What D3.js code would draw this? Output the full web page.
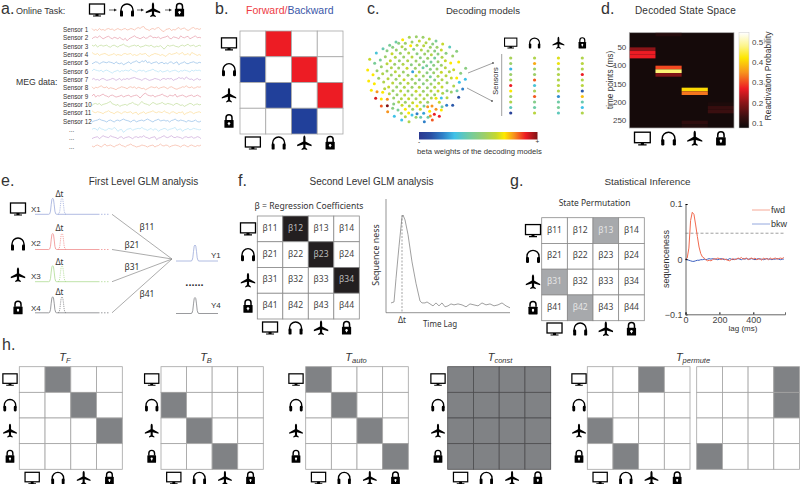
<!DOCTYPE html>
<html>
<head>
<meta charset="utf-8">
<script src="https://cdnjs.cloudflare.com/ajax/libs/d3/7.8.5/d3.min.js"></script>
<style>
html, body { margin: 0; padding: 0; background: #fff; }
svg { display: block; }
text { font-family: "Liberation Sans", Arial, sans-serif; fill: #333; }
.noto { font-family: "Noto Sans", sans-serif; }
</style>
</head>
<body>
<div id="chart"></div>
<script>
// states, in the order every matrix uses them
var states = ['monitor', 'headphones', 'plane', 'lock']

// a. MEG traces
var sensorLabels = ['Sensor 1', 'Sensor 2', 'Sensor 3', 'Sensor 4', 'Sensor 5', 'Sensor 6', 'Sensor 7', 'Sensor 8', 'Sensor 9', 'Sensor 10', 'Sensor 11', 'Sensor 12', '...', '...', '...']
var sensorColors = ['#f7b5a0', '#e69cab', '#c0dc9a', '#fcdd98', '#92bde6', '#b6e3f6', '#cca8da', '#f7b5a0', '#e69cab', '#c0dc9a', '#fcdd98', '#92bde6', '#b6e3f6', '#cca8da', '#f7b5a0']
var traces = [
    [1, -1, 0, -1, 1, -.5, 0, -1, .5, 1, 0, .5, -1, 0, 1, 0, -.5, .5, 1, -.5, 0, 1, .5, -.5, 1, 2, 1, 2.5, 3, .5, 0, -1, .5, 1, 0, 1.5, 2, .5, -1.5, -2, 0, .5, 1, -1, 0, -.5, 1, 2, 0, 1, 1.5, 0, -1, 0, 1.5, 2, .5, 1, 0, 1],
    [-1, .5, 1, 0, 2, .5, -1, 0, 1, 1.5, 0, -1, .5, 0, -1, .5, -1, -2, -.5, -3, -1, 0, 1, 2, .5, 0, -1, 0, 1, -.5, 0, 1.5, 2, 0, .5, 0, 1, -1, 0, .5, 1, 2, -.5, -1, 1, .5, 0, -1, 2, .5, 0, 1, 1.5, -1, 0, 1, 2, 0, .5, 0],
    [1, 0, 1.5, -1, .5, 1, 0, .5, 1, -.5, -1, .5, 1, 0, -1, .5, 1, 2, .5, 0, -1, 0, .5, 1, 0, 1, -1, -.5, 0, 1, .5, 0, 1, -.5, -1, 0, -.5, .5, -1, -3, -1, 1, 0, .5, 1, 0, -.5, -1, .5, 1, 0, 1, 2, 0, .5, 1, -.5, 0, 1, 0],
    [2, .5, 0, 1, -1, 0, .5, 1, 0, -1, -.5, 0, 1, -1, 0, -.5, -1, .5, 1, 0, .5, 1, -1, 0, -1, -.5, 1, 0, .5, 1, -1, -2, -.5, 0, 1, .5, 0, -1, 0, -1, -2, 0, 1, 0, .5, 1, 2, 0, 1, 2, -.5, 0, 1, -1, 2, 1, 0, -1, 0, -1],
    [-1, 0, 1, .5, -1, 0, 1, .5, 0, 1, .5, 0, -1, 1, -.5, -1, 0, -2, -1, 0, 1, -1, .5, 1, 2, .5, 0, 2, 1, 2.5, 0, 1, -1, 0, .5, 1, -1, 0, .5, -1, 0, -1, .5, 1, -1, 0, 1, -2, -.5, 0, 1, -.5, -1, 0, .5, 1, 0, -.5, .5, 0],
    [0, 2, 1, .5, 0, 1, -1, .5, 1, 0, -1, -2, -.5, 0, 1, -1, .5, 0, 1, .5, 0, 2, .5, 0, -1, .5, 1, 0, 1, -1, 0, .5, 1, 2, .5, 0, -1, 1, -1, -.5, 0, 1, -1, 0, .5, 1, 0, -1, .5, 0, 1, .5, 0, -1, 1, 0, 1, .5, 1, 0],
    [0, 1, -.5, 0, -1, .5, 1, 0, -1, -.5, 0, 1, .5, -1, 0, 1, -1, .5, 0, 1, 0, 1, 1.5, 2, 1, .5, 0, -1, .5, 1, 0, -1, -.5, 0, 1, .5, 0, -1, .5, 1, 0, 1, .5, 1, -1, 0, .5, 2, 1, 1.5, 0, 2.5, 1, 0, .5, -1, 0, 1, -.5, 0],
    [1, -1, .5, 0, 1, 2, .5, 0, 1, -1, 0, -.5, -1, -2, -.5, 0, 1, .5, 0, -1, .5, 1, 0, 1, -1, .5, 0, -1, -.5, -2, -1, 0, 1, .5, 0, 1, -1, 0, .5, 1, 0, -1, .5, 1, 0, -1, -1.5, -.5, 0, 1, .5, 2, .5, 0, 1, -.5, 0, 1, .5, 1],
    [0, 2, -1, .5, 0, 1, 2, .5, 0, -1, .5, 1, 0, -1, -.5, 0, 1, -1, 0, .5, 1, -1, 0, .5, 1, 0, -2, 0, 2, 3, 1, .5, 0, 1, -1, 0, .5, 1, 2, .5, 0, -1, 1, .5, 0, 2, -1, 0, .5, 1, 0, -1, 0, .5, 1, -.5, 0, 1, 0, -1],
    [-1, .5, 1, 0, 1, -1, 0, .5, 1, 2, 3, .5, 0, -1, 0, -2, -1, -.5, 0, -1, .5, 1, 2, .5, 0, -1, 1, 3, 1, .5, 0, -1, .5, 2, 1, 0, .5, 1, 2, .5, 0, 1, .5, 0, -1, .5, 1, 0, -1, -.5, -2, -1, 0, 1, .5, -1, 0, .5, -.5, 0],
    [2, .5, 0, 1, .5, 0, -1, .5, 1, 2, .5, 0, -1, .5, 1, 0, -1, .5, 1, 0, .5, 1, -1, 0, .5, -2, -.5, 0, 1, -1, 0, .5, 1, 2, .5, 0, 1, .5, 0, 2, .5, 0, -1, .5, 1, 0, -1, .5, 0, 1, -2, -.5, 0, 1, .5, -1, 0, .5, 1, 0],
    [-1, 0, .5, 1, 2, 1, .5, 0, -1, .5, 1, 0, -1, .5, 1, 0, 1, 2, 1, .5, 0, -1, .5, 1, -1, 0, .5, 1, 0, 1, 2, 1, 0, -1, .5, 1, 2, 0, .5, 1, 0, .5, -1, .5, 1, 2, .5, 0, 1, .5, 0, -1, .5, 0, -.5, 0, 1, -.5, -1, 0],
    [0, 1, .5, -1, 2, .5, 0, -1, -.5, 1, .5, 0, 2, .5, -2, -.5, 0, -3, -1.5, 0, .5, 1, -1, 0, .5, 1, .5, 2, .5, 0, -1, 0, 1, -1, .5, 0, -2, -.5, 0, 1, .5, -1, 0, .5, 1, 2, -1, 0, .5, -2, -.5, 0, 1, -.5, 0, 1, .5, 0, -.5, 0],
    [-1, 0, .5, 1, -1, .5, 2, 1, .5, 0, 2, 1, .5, 0, -1, .5, 1, -1, 0, .5, 1, 0, -1, .5, 1, 0, 1, .5, 2, .5, 0, -1, 0, .5, 1, -2, -.5, 0, 1, 2, .5, 0, 1, 2, .5, 0, 1, .5, 0, -1, .5, 1, 0, .5, 1, -.5, 0, 1, .5, -1],
    [0, -1, .5, 1, 0, -1, .5, 2, 0, .5, 1, 0, -1, .5, 1, 2, .5, 0, -1, .5, 1, 2, .5, 0, -1, -.5, 0, 1, .5, 0, -1, 0, .5, 1, -1, 0, .5, 2, .5, 0, 1, .5, -1, 0, .5, 1, .5, 0, -1, .5, 1, 0, -1, .5, 1, 0, -.5, .5, 0, 1]
]

// b. transition pattern: 1 forward, 2 backward
var forwardBackward = [[0, 1, 0, 0], [2, 0, 1, 0], [0, 2, 0, 1], [0, 0, 2, 0]]

// c. sensor layout [x, y, beta]
var sensorLayout = [
    [122, 29, .72], [142, 22, .58], [163, 20, .55], [183, 22, .55], [202, 27, .62], [222, 33, .45], [242, 42, .65], [263, 51, .38], [284, 64, .5],
    [43, 69, .33], [63, 56, .4], [83, 46, .45], [102, 36, .42], [23, 88, .65], [38, 100, .45], [17, 120, .72], [33, 134, .72], [20, 153, .72],
    [37, 161, .72], [28, 181, .72], [45, 185, .8], [62, 187, .72], [41, 205, .92], [58, 207, .72], [76, 208, .8], [58, 228, .85], [76, 227, 1],
    [95, 222, .5], [77, 245, .8], [97, 259, .3], [119, 270, .3], [141, 275, .6], [187, 275, .2], [165, 251, .2], [176, 262, .4], [211, 270, .85],
    [232, 259, .9], [217, 253, .9], [203, 244, .72], [222, 238, .8], [238, 204, .3], [254, 226, .2], [272, 226, .12], [290, 202, .1], [302, 177, .2],
    [292, 157, .3], [310, 148, .3], [296, 130, .5], [311, 115, .5], [290, 96, .72], [266, 99, .72], [275, 119, .65], [284, 144, .72],
    [110, 40, .5], [130, 40, .55], [150, 36, .55], [172, 33, .65], [192, 38, .6], [212, 42, .5],
    [92, 52, .5], [120, 50, .6], [146, 47, .72], [165, 46, .6], [185, 47, .62], [205, 52, .55], [225, 52, .55],
    [75, 62, .5], [103, 60, .55], [130, 58, .55], [155, 58, .5], [178, 60, .6], [198, 63, .55], [218, 63, .5], [238, 60, .65],
    [90, 71, .65], [115, 70, .55], [140, 69, .6], [165, 71, .5], [188, 72, .55], [208, 74, .6], [228, 72, .5], [252, 70, .5], [272, 78, .55],
    [70, 80, .55], [100, 82, .6], [125, 81, .55], [150, 81, .62], [175, 83, .5], [197, 85, .55], [218, 84, .45], [240, 82, .6],
    [55, 90, .45], [85, 92, .65], [112, 92, .55], [137, 92, .6], [162, 93, .55], [185, 95, .5], [207, 96, .45], [228, 95, .55], [250, 92, .65],
    [75, 101, .62], [98, 103, .55], [123, 103, .6], [148, 104, .5], [172, 104, .55], [194, 107, .45], [215, 106, .5], [238, 106, .55],
    [58, 110, .55], [88, 113, .6], [110, 114, .55], [135, 115, .65], [160, 115, .55], [183, 113, .42], [205, 118, .5], [225, 117, .55], [250, 113, .62],
    [45, 122, .55], [75, 123, .55], [100, 125, .62], [124, 126, .55], [152, 125, .25], [172, 126, .6], [195, 128, .5], [215, 128, .55], [238, 127, .65], [262, 125, .6],
    [62, 131, .6], [88, 135, .55], [112, 137, .6], [138, 136, .55], [162, 137, .62], [184, 138, .55], [205, 140, .45], [228, 139, .6], [252, 137, .62],
    [50, 145, .55], [78, 146, .62], [102, 148, .55], [126, 149, .65], [150, 148, .55], [172, 149, .5], [195, 151, .55], [218, 150, .5], [240, 149, .6], [268, 144, .65],
    [65, 156, .6], [92, 159, .62], [115, 160, .55], [138, 160, .62], [160, 160, .55], [184, 161, .5], [207, 162, .55], [230, 160, .62], [255, 158, .55],
    [80, 171, .65], [104, 171, .55], [127, 172, .6], [150, 172, .55], [172, 172, .62], [196, 173, .55], [218, 172, .6], [240, 171, .65], [275, 168, .6],
    [68, 176, .62], [93, 182, .55], [116, 183, .62], [138, 183, .55], [162, 184, .65], [184, 184, .55], [207, 183, .6], [228, 183, .65], [255, 182, .5], [285, 182, .42],
    [82, 191, .62], [105, 194, .55], [128, 195, .62], [150, 195, .55], [174, 195, .62], [196, 195, .58], [218, 194, .55], [242, 190, .6], [268, 186, .55],
    [95, 204, .55], [118, 206, .6], [140, 206, .65], [162, 206, .58], [186, 206, .6], [208, 204, .6], [222, 205, .7], [255, 203, .62],
    [110, 216, .6], [130, 217, .55], [152, 218, .65], [175, 217, .62], [197, 217, .55], [210, 228, .8],
    [92, 235, .5], [120, 226, .65], [142, 228, .6], [165, 228, .7], [186, 228, .45], [232, 217, .65], [240, 230, .42],
    [108, 240, .45], [130, 238, .72], [152, 238, .55], [175, 238, .65], [197, 230, .8], [238, 240, .72],
    [118, 250, .55], [140, 249, .72], [162, 262, .55], [185, 250, .25], [205, 258, .8],
    [130, 260, .62], [150, 255, .3], [198, 262, .42]
]
var sensorColumns = [
    [.58, .55, .28, .55, .58, .9, .72, .55, .6, .38, .05],
    [.6, .78, .55, .55, .85, .33, .58, .85, .48, .42, .62],
    [.68, .7, .58, .6, .6, .62, .6, .22, .42, .45, .38],
    [.6, .62, .6, .9, .6, .62, .12, .76, .4, .3, .6]
]
var betaStops = [0, .1, .2, .3, .42, .55, .65, .72, .8, .9, 1]
var betaColors = ['#2b3990', '#2a4fa3', '#2f80c8', '#3fc1e8', '#6fcba5', '#9ccf6a', '#c5d82e', '#fde900', '#f7941d', '#ed1c24', '#7f1416']

// d. decoded state space
var timeTicks = [50, 100, 150, 200, 250]
var heatBase = 0.085
// [time index, state index, probability]
var heatCells = [
    [0, 1, .105], [4, 0, .2], [5, 0, .27], [6, 0, .27],
    [9, 1, .3], [10, 1, .47], [11, 1, .19],
    [15, 2, .41], [16, 2, .33], [24, 2, .115], [25, 2, .1],
    [19, 3, .095], [20, 3, .125], [21, 3, .13]
]
var heatTicks = [.1, .2, .3, .4, .5]
var heatStops = [.076, .13, .2, .27, .35, .42, .48, .544]
var heatColors = ['#0d0909', '#3a0f10', '#8b1418', '#ed1c24', '#f7941d', '#fde600', '#fdf58c', '#ffffff']

// e. first level GLM
var glmRows = [
    { name: 'X1', beta: 'β11', color: '#9dabda' },
    { name: 'X2', beta: 'β21', color: '#f08d8d' },
    { name: 'X3', beta: 'β31', color: '#aedb92' },
    { name: 'X4', beta: 'β41', color: '#808285' }
]
var pulseLag = [-4, -3, -2.2, -1.5, -.8, 0, .8, 1.5, 2.2, 3, 4]
var pulseAmp = [0, .03, .2, .6, .93, 1, .93, .6, .2, .03, 0]

// f. sequenceness sketch
var betaLabels = [['β11', 'β12', 'β13', 'β14'], ['β21', 'β22', 'β23', 'β24'], ['β31', 'β32', 'β33', 'β34'], ['β41', 'β42', 'β43', 'β44']]
var secondLevel = [[0, 1, 0, 0], [0, 0, 1, 0], [0, 0, 0, 1], [0, 0, 0, 0]]
var seqLag = [5, 8, 10, 13, 16, 17, 19, 22, 26, 30, 34, 36, 39, 41, 44, 47, 50, 53, 56, 59, 62, 65, 68, 72, 76, 80, 84, 88, 92, 96, 100, 104, 108, 112, 116, 120, 124]
var seqValue = [.1, .11, .35, .68, .98, 1, .95, .8, .52, .3, .12, .1, .1, .11, .09, .07, .1, .07, .1, .06, .07, .09, .08, .09, .08, .06, .09, .08, .07, .1, .08, .09, .07, .08, .1, .07, .05]

// g. permutation and sequenceness
var permuted = [[0, 0, 1, 0], [0, 0, 0, 0], [1, 0, 0, 0], [0, 1, 0, 0]]
var lags = [0, 10, 20, 30, 40, 50, 60, 70, 80, 90, 100, 110, 120, 130, 140, 150, 160, 170, 180, 190, 200, 210, 220, 230, 240, 250, 260, 270, 280, 290, 300, 310, 320, 330, 340, 350, 360, 370, 380, 390, 400, 410, 420, 430, 440, 450, 460, 470, 480, 490, 500, 510, 520, 530, 540, 550, 560, 570, 580]
var fwd = [0, .002, .02, .07, .085, .081, .062, .041, .022, .01, .004, .002, -.001, -.003, -.002, -.003, -.001, .001, 0, .002, .001, -.001, .001, 0, -.001, -.002, -.003, -.001, .001, -.001, 0, .002, .001, .003, 0, .001, .002, -.001, .001, .002, 0, .002, -.001, 0, .001, -.002, .002, 0, .001, -.001, .002, 0, .001, .002, 0, .001, .002, .001, .003]
var bkw = [0, -.001, -.002, -.003, -.004, -.004, -.003, -.002, -.002, -.001, -.001, 0, -.001, 0, .001, 0, .001, 0, 0, -.001, 0, .001, 0, -.001, 0, -.001, .001, 0, -.001, 0, 0, .001, 0, -.001, .001, 0, .001, 0, 0, .001, 0, -.001, 0, .001, 0, 0, -.001, 0, .001, 0, 0, -.001, 0, 0, .001, 0, -.001, 0, 0]
var threshold = 0.047

// h. transition matrices
var tF = [[0, 1, 0, 0], [0, 0, 1, 0], [0, 0, 0, 1], [0, 0, 0, 0]]
var tB = [[0, 0, 0, 0], [1, 0, 0, 0], [0, 1, 0, 0], [0, 0, 1, 0]]
var tAuto = [[1, 0, 0, 0], [0, 1, 0, 0], [0, 0, 1, 0], [0, 0, 0, 1]]
var tConst = [[1, 1, 1, 1], [1, 1, 1, 1], [1, 1, 1, 1], [1, 1, 1, 1]]
var tPermute1 = [[0, 0, 1, 0], [0, 0, 0, 0], [1, 0, 0, 0], [0, 1, 0, 0]]
var tPermute2 = [[0, 0, 0, 1], [0, 0, 0, 1], [0, 0, 0, 0], [1, 0, 0, 0]]

var svg = d3.select('#chart').append('svg')
    .attr('width', 800)
    .attr('height', 484)

function label(txt, x, y, size, anchor) {
    return svg.append('text')
        .attr('x', x)
        .attr('y', y)
        .attr('font-size', size)
        .attr('text-anchor', anchor || 'start')
        .text(txt)
}

function vertical(txt, x, y, size) {
    return svg.append('text')
        .attr('transform', `translate(${x}, ${y}) rotate(-90)`)
        .attr('font-size', size)
        .attr('text-anchor', 'middle')
        .text(txt)
}

function icon(kind, x, y, s) {
    var g = svg.append('g').attr('transform', `translate(${x}, ${y}) scale(${s || 1})`)
    if (kind == 'monitor') {
        g.append('rect').attr('x', -7.5).attr('y', -6).attr('width', 15).attr('height', 10)
            .attr('fill', '#fff').attr('stroke', '#000').attr('stroke-width', 1.3)
        g.append('path').attr('d', 'M-1.5 4H1.5V5.4H4V6.6H-4V5.4H-1.5Z').attr('fill', '#000')
    } else if (kind == 'headphones') {
        g.append('path').attr('d', 'M-6 3V0A6 6 0 0 1 6 0V3').attr('fill', 'none').attr('stroke', '#000').attr('stroke-width', 1.4)
        g.append('rect').attr('x', -7).attr('y', .6).attr('width', 3).attr('height', 6).attr('rx', 1.2).attr('fill', '#000')
        g.append('rect').attr('x', 4).attr('y', .6).attr('width', 3).attr('height', 6).attr('rx', 1.2).attr('fill', '#000')
    } else if (kind == 'plane') {
        g.append('path')
            .attr('d', 'M0-7.5C.8-7.5 1.1-6 1.1-5V-1.6L7.2 1.8V3.2L1.1 1.4V4.6L2.8 6V7L0 6.2L-2.8 7V6L-1.1 4.6V1.4L-7.2 3.2V1.8L-1.1-1.6V-5C-1.1-6-.8-7.5 0-7.5Z')
            .attr('fill', '#000')
    } else {
        g.append('path').attr('d', 'M-3-1V-3.4A3 3 0 0 1 3-3.4V-1').attr('fill', 'none').attr('stroke', '#000').attr('stroke-width', 1.5)
        g.append('rect').attr('x', -4.6).attr('y', -1.2).attr('width', 9.2).attr('height', 7.8).attr('rx', .6).attr('fill', '#000')
        g.append('circle').attr('cx', 0).attr('cy', 2.2).attr('r', 1.2).attr('fill', '#fff')
        g.append('rect').attr('x', -.5).attr('y', 2.2).attr('width', 1).attr('height', 2).attr('fill', '#fff')
    }
}

// 4x4 matrix with its state icons on the left and below
function matrix(rows, box, opts) {
    var xScale = d3.scaleBand().domain(d3.range(4)).range([box.x0, box.x1])
    var yScale = d3.scaleBand().domain(d3.range(4)).range([box.y0, box.y1])
    var cells = []
    rows.forEach((row, r) => row.forEach((v, c) => cells.push({ r: r, c: c, v: v })))

    svg.append('g').selectAll('rect')
        .data(cells)
        .enter().append('rect')
        .attr('x', d => xScale(d.c))
        .attr('y', d => yScale(d.r))
        .attr('width', xScale.bandwidth())
        .attr('height', yScale.bandwidth())
        .attr('fill', d => opts.fill[d.v])
        .attr('stroke', opts.grid)
        .attr('stroke-width', opts.gridWidth || .8)

    if (opts.labels) {
        svg.append('g').selectAll('text')
            .data(cells)
            .enter().append('text')
            .attr('class', 'noto')
            .attr('x', d => xScale(d.c) + xScale.bandwidth() / 2)
            .attr('y', d => yScale(d.r) + yScale.bandwidth() / 2 + 2)
            .attr('font-size', 8.5)
            .attr('text-anchor', 'middle')
            .style('fill', d => d.v ? opts.lightText : '#444')
            .text(d => opts.labels[d.r][d.c])
    }
    if (opts.leftIcons !== null) {
        states.forEach((s, i) => icon(s, opts.leftIcons, yScale(i) + yScale.bandwidth() / 2, opts.iconScale))
    }
    if (opts.bottomIcons !== null) {
        states.forEach((s, i) => icon(s, xScale(i) + xScale.bandwidth() / 2, opts.bottomIcons, opts.iconScale))
    }
}

// panel letters and titles
label('a.', 1, 14, 16)
label('b.', 215, 14, 16)
label('c.', 367, 14, 16)
label('d.', 601, 14, 16)
label('e.', 1, 186, 16)
label('f.', 238, 186, 16)
label('g.', 510, 186, 16)
label('h.', 2, 350, 16)

// ---- a ----
label('Online Task:', 16, 14, 9)
icon('monitor', 97, 10, 1)
icon('headphones', 127, 10, 1)
icon('plane', 153, 10, 1)
icon('lock', 179.5, 10, 1)
;[[109, 117], [137, 144], [165, 172]].forEach(a => {
    svg.append('path').attr('d', `M${a[0]} 10H${a[1] - 3}`).attr('stroke', '#222').attr('stroke-width', .7)
    svg.append('path').attr('d', `M${a[1] - 3} 8.4L${a[1]} 10L${a[1] - 3} 11.6Z`).attr('fill', '#222')
})
label('MEG data:', 16, 85, 8.7)

var traceX = d3.scaleLinear().domain([0, traces[0].length - 1]).range([92, 201])
var traceY = d3.scalePoint().domain(d3.range(traces.length)).range([29.5, 146])
var traceAmp = d3.scaleLinear().domain([-3, 3]).range([3, -3])
var traceLine = d3.line().x((d, i) => traceX(i)).y(d => traceAmp(d))

sensorLabels.forEach((name, i) => {
    var isDots = name == '...'
    label(name, isDots ? 69 : 63, traceY(i) + 2.5, 6.3)
    svg.append('path')
        .attr('transform', `translate(0, ${traceY(i)})`)
        .attr('d', traceLine(traces[i]))
        .attr('fill', 'none')
        .attr('stroke', sensorColors[i])
        .attr('stroke-width', .7)
})

// ---- b ----
var bTitle = svg.append('text').attr('x', 246).attr('y', 14).attr('font-size', 10.5)
bTitle.append('tspan').style('fill', '#ee3b44').text('Forward/')
bTitle.append('tspan').style('fill', '#3a57a8').text('Backward')
matrix(forwardBackward, { x0: 240, x1: 343, y0: 31, y1: 134 }, {
    fill: ['#fff', '#ed1c24', '#21409a'], grid: '#a7a7a7', leftIcons: 229, bottomIcons: 143, iconScale: 1
})

// ---- c ----
label('Decoding models', 483, 14, 9.6, 'middle')
var betaColor = d3.scaleLinear().domain(betaStops).range(betaColors)
var layoutX = d3.scaleLinear().domain([0, 336]).range([362, 474])
var layoutY = d3.scaleLinear().domain([0, 288]).range([30, 126])

svg.append('g').selectAll('circle')
    .data(sensorLayout)
    .enter().append('circle')
    .attr('cx', d => layoutX(d[0]))
    .attr('cy', d => layoutY(d[1]))
    .attr('r', 1.5)
    .attr('fill', d => betaColor(d[2]))

var colX = d3.scalePoint().domain(d3.range(4)).range([510.7, 582.3])
var rowY = d3.scalePoint().domain(d3.range(11)).range([58, 113])
sensorColumns.forEach((col, c) => {
    icon(states[c], colX(c), 43, .82)
    svg.append('g').selectAll('circle')
        .data(col)
        .enter().append('circle')
        .attr('cx', colX(c))
        .attr('cy', (d, i) => rowY(i))
        .attr('r', 1.6)
        .attr('fill', d => betaColor(d))
})
svg.append('line').attr('x1', 501.7).attr('x2', 501.7).attr('y1', 54).attr('y2', 116).attr('stroke', '#777').attr('stroke-width', .7)
vertical('Sensors', 498, 81, 7.5)
;[[468, 73, 493, 63], [467, 88, 492, 101]].forEach(a => {
    svg.append('line').attr('x1', a[0]).attr('y1', a[1]).attr('x2', a[2]).attr('y2', a[3]).attr('stroke', '#777').attr('stroke-width', .7)
    svg.append('circle').attr('cx', a[2]).attr('cy', a[3]).attr('r', .9).attr('fill', '#555')
})

var defs = svg.append('defs')
var betaGrad = defs.append('linearGradient').attr('id', 'betaGrad')
betaStops.forEach((s, i) => betaGrad.append('stop').attr('offset', s).attr('stop-color', betaColors[i]))
svg.append('rect').attr('x', 419).attr('y', 132).attr('width', 118.5).attr('height', 7.5).attr('fill', 'url(#betaGrad)')
label('-', 419, 144, 6.5, 'middle')
label('+', 537.5, 144, 6.5, 'middle')
label('beta weights of the decoding models', 479.5, 153.5, 7.7, 'middle')

// ---- d ----
label('Decoded State Space', 685.5, 14, 10, 'middle').attr('letter-spacing', .2)
var heatColor = d3.scaleLinear().domain(heatStops).range(heatColors)
var heatX = d3.scaleBand().domain(d3.range(4)).range([629.3, 734])
var heatRows = d3.scaleBand().domain(d3.range(26)).range([32.7, 128])
var heatTime = d3.scaleLinear().domain([50, 250]).range([47, 120])

svg.append('rect').attr('x', 629.3).attr('y', 32.7).attr('width', 104.7).attr('height', 95.3).attr('fill', heatColor(heatBase))
svg.append('g').selectAll('rect')
    .data(heatCells)
    .enter().append('rect')
    .attr('x', d => heatX(d[1]))
    .attr('y', d => heatRows(d[0]))
    .attr('width', heatX.bandwidth())
    .attr('height', heatRows.bandwidth())
    .attr('fill', d => heatColor(d[2]))
svg.append('rect').attr('x', 629.3).attr('y', 32.7).attr('width', 104.7).attr('height', 95.3)
    .attr('fill', 'none').attr('stroke', '#aaa').attr('stroke-width', .7)

svg.append('g')
    .attr('transform', 'translate(629.3, 0)')
    .call(d3.axisLeft(heatTime).tickValues(timeTicks).tickSize(0).tickPadding(3))
    .call(g => g.select('.domain').remove())
    .call(g => g.selectAll('text').attr('font-size', 8).attr('font-family', null).style('fill', '#444'))
vertical('time points (ms)', 613, 80, 8.2)
states.forEach((s, i) => icon(s, heatX(i) + heatX.bandwidth() / 2, 138.5, 1.05))

var heatGrad = defs.append('linearGradient').attr('id', 'heatGrad').attr('x1', 0).attr('x2', 0).attr('y1', 1).attr('y2', 0)
heatStops.forEach((s, i) => heatGrad.append('stop')
    .attr('offset', (s - heatStops[0]) / (heatStops[heatStops.length - 1] - heatStops[0]))
    .attr('stop-color', heatColors[i]))
svg.append('rect').attr('x', 739).attr('y', 32.7).attr('width', 10).attr('height', 95.3)
    .attr('fill', 'url(#heatGrad)').attr('stroke', '#ccc').attr('stroke-width', .5)
var heatBar = d3.scaleLinear().domain([.076, .544]).range([128, 32.7])
svg.append('g')
    .attr('transform', 'translate(749, 0)')
    .call(d3.axisRight(heatBar).tickValues(heatTicks).tickFormat(d3.format('.1f')).tickSize(0).tickPadding(3))
    .call(g => g.select('.domain').remove())
    .call(g => g.selectAll('text').attr('font-size', 8).attr('font-family', null).style('fill', '#444'))
vertical('Reactivation Probability', 771, 76, 8.5)

// ---- e ----
label('First Level GLM analysis', 143.5, 185, 10, 'middle')
var baseY = [214.3, 249.5, 281.7, 312.8]
var labelY = [212, 246, 279, 311]
var deltaY = [197, 231, 265, 295]
var iconY = [209, 244, 275, 307.7]
var pulseY = d3.scaleLinear().domain([0, 1]).range([0, -16])
var pulseLine = d3.line().x(d => d.x).y(d => pulseY(d.a))

function pulseTrace(cx, start, end, row, color, dashed) {
    var pts = [{ x: start, a: 0 }]
    pulseLag.forEach((l, i) => pts.push({ x: cx + l, a: pulseAmp[i] }))
    pts.push({ x: end, a: 0 })
    var g = svg.append('path')
        .attr('transform', `translate(0, ${row})`)
        .attr('d', pulseLine(pts))
        .attr('fill', 'none')
        .attr('stroke', color)
        .attr('stroke-width', .8)
    if (dashed) g.attr('stroke-dasharray', '1.2 1')
}

glmRows.forEach((row, i) => {
    icon(states[i], 18, iconY[i], 1)
    label(row.name, 31, labelY[i], 8)
    label('Δt', 59.5, deltaY[i], 8, 'middle').attr('class', 'noto')
    pulseTrace(52.7, 35, 98, baseY[i], row.color, false)
    // dashed copy one lag later
    pulseTrace(62, 58, 66, baseY[i], row.color, true)
    svg.append('line').attr('x1', 98).attr('x2', 110).attr('y1', baseY[i]).attr('y2', baseY[i])
        .attr('stroke', row.color).attr('stroke-width', .8).attr('stroke-dasharray', '1.5 1.5')
    svg.append('line').attr('x1', 112).attr('y1', baseY[i]).attr('x2', 172).attr('y2', 259)
        .attr('stroke', '#888').attr('stroke-width', .7)
})
label('β11', 147, 230, 8.5, 'middle').attr('class', 'noto')
label('β21', 132, 248, 8.5, 'middle').attr('class', 'noto')
label('β31', 132, 270, 8.5, 'middle').attr('class', 'noto')
label('β41', 147, 297, 8.5, 'middle').attr('class', 'noto')
pulseTrace(195, 176, 218, 261, '#9dabda', false)
pulseTrace(195, 176, 218, 313.5, '#808285', false)
label('Y1', 211, 258, 8)
label('Y4', 211, 308, 8)
label('......', 194.5, 286, 11, 'middle').attr('font-weight', 'bold')

// ---- f ----
label('Second Level GLM analysis', 371.5, 185, 10, 'middle')
label('β = Regression Coefficients', 309, 209, 8.6, 'middle').attr('class', 'noto')
matrix(secondLevel, { x0: 257.3, x1: 359.3, y0: 216, y1: 319 }, {
    fill: ['#fff', '#231f20'], grid: '#8a8a8a', labels: betaLabels, lightText: '#bbb', leftIcons: 248, bottomIcons: 328, iconScale: 1
})

var seqX = d3.scaleLinear().domain([0, 124]).range([386, 510])
var seqY = d3.scaleLinear().domain([0, 1]).range([312.7, 215])
svg.append('path')
    .attr('d', d3.line().x(d => seqX(d[0])).y(d => seqY(d[1]))(d3.zip(seqLag, seqValue)))
    .attr('fill', 'none').attr('stroke', '#777').attr('stroke-width', .7)
svg.append('path').attr('d', 'M386 199V312.7H510').attr('fill', 'none').attr('stroke', '#666').attr('stroke-width', .7)
svg.append('line').attr('x1', seqX(16)).attr('x2', seqX(16)).attr('y1', seqY(1)).attr('y2', 312.7)
    .attr('stroke', '#666').attr('stroke-width', .6).attr('stroke-dasharray', '2 1.5')
label('Δt', seqX(16), 323, 8, 'middle').attr('class', 'noto')
label('Time Lag', 440, 327, 8, 'middle').attr('class', 'noto')
vertical('Sequence ness', 379, 255, 8.8).attr('class', 'noto')

// ---- g ----
label('State Permutation', 594.5, 206, 8.4, 'middle').attr('class', 'noto')
label('Statistical Inference', 647.5, 185, 9.9, 'middle')
matrix(permuted, { x0: 541.7, x1: 644.3, y0: 217.7, y1: 320.7 }, {
    fill: ['#fff', '#a7a9ac'], grid: '#8a8a8a', labels: betaLabels, lightText: '#e6e6e6', leftIcons: 533, bottomIcons: 329, iconScale: 1
})

var lagX = d3.scaleLinear().domain([0, 587]).range([685.5, 785])
var seqnessY = d3.scaleLinear().domain([-.1, .1]).range([314.3, 204])
svg.append('line').attr('x1', lagX(0)).attr('x2', lagX(587)).attr('y1', seqnessY(threshold)).attr('y2', seqnessY(threshold))
    .attr('stroke', '#777').attr('stroke-width', .7).attr('stroke-dasharray', '3 2')
var lagLine = d3.line().x(d => lagX(d[0])).y(d => seqnessY(d[1]))
svg.append('path').attr('d', lagLine(d3.zip(lags, bkw))).attr('fill', 'none').attr('stroke', '#3b5fc0').attr('stroke-width', 1)
svg.append('path').attr('d', lagLine(d3.zip(lags, fwd))).attr('fill', 'none').attr('stroke', '#f26a4f').attr('stroke-width', 1)

svg.append('g')
    .attr('transform', 'translate(685.5, 0)')
    .call(d3.axisLeft(seqnessY).tickValues([-.1, 0, .1]).tickFormat(d => d == 0 ? '0' : d3.format('.1f')(d)).tickSize(-2).tickPadding(3))
    .call(g => g.select('.domain').attr('stroke', '#666'))
    .call(g => g.selectAll('text').attr('font-size', 9).attr('font-family', null).style('fill', '#444'))
svg.append('g')
    .attr('transform', 'translate(0, 314.3)')
    .call(d3.axisBottom(lagX).tickValues([0, 200, 400]).tickSize(-2).tickPadding(2))
    .call(g => g.select('.domain').attr('stroke', '#666'))
    .call(g => g.selectAll('text').attr('font-size', 9).attr('font-family', null).style('fill', '#444'))
label('lag (ms)', 743, 331, 8, 'middle')
vertical('sequenceness', 669, 259, 9)
svg.append('line').attr('x1', 752).attr('x2', 770).attr('y1', 210).attr('y2', 210).attr('stroke', '#f4937c').attr('stroke-width', .8)
svg.append('line').attr('x1', 752).attr('x2', 770).attr('y1', 224).attr('y2', 224).attr('stroke', '#7a93d6').attr('stroke-width', .8)
label('fwd', 771, 213, 9)
label('bkw', 771, 227, 9)

// ---- h ----
var hGrey = ['#fff', '#808285']
function title(main, sub, x, y) {
    var t = svg.append('text').attr('x', x).attr('y', y).attr('font-size', 11).attr('font-style', 'italic').attr('text-anchor', 'middle')
    t.append('tspan').text(main)
    t.append('tspan').attr('font-size', 7.5).attr('dy', 1.5).text(sub)
}
var hMatrices = [
    { rows: tF, x0: 19.3, x1: 122.3, icons: 10, name: 'F', titleX: 65 },
    { rows: tB, x0: 161, x1: 263.3, icons: 151.7, name: 'B', titleX: 206 },
    { rows: tAuto, x0: 305.7, x1: 408.3, icons: 296, name: 'auto', titleX: 356 },
    { rows: tConst, x0: 447.7, x1: 550.7, icons: 438, name: 'const', titleX: 500 },
    { rows: tPermute1, x0: 587.3, x1: 690, icons: 579, name: 'permute', titleX: 693 },
    { rows: tPermute2, x0: 696.7, x1: 799.5, icons: null, name: null }
]
hMatrices.forEach(m => {
    matrix(m.rows, { x0: m.x0, x1: m.x1, y0: 366.7, y1: 469.3 }, {
        fill: hGrey,
        grid: m.rows == tConst ? '#4d4d4f' : '#a3a3a3',
        leftIcons: m.icons,
        bottomIcons: m.icons === null ? null : 478,
        iconScale: .95
    })
    if (m.name) title('T', m.name, m.titleX, 361)
})
</script>
</body>
</html>
